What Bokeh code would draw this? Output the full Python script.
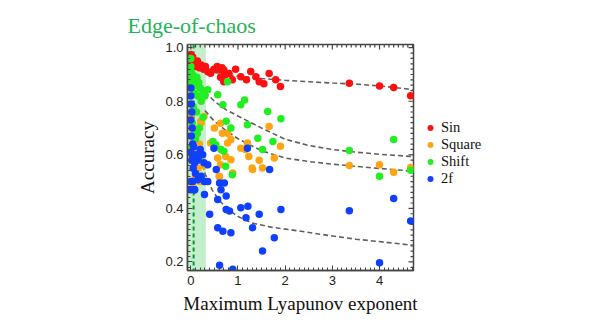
import math
from bokeh.plotting import figure
from bokeh.models import (Range1d, SingleIntervalTicker, PrintfTickFormatter,
                          BoxAnnotation, Span, Legend, LegendItem)
from bokeh.embed import file_html
from bokeh.resources import INLINE

# ---------------- data ----------------
sin_x = [0.00, 0.00, 0.02, 0.04, 0.07, 0.10, 0.14, 0.18, 0.22, 0.27, 0.31, 0.36, 0.42, 0.49, 0.56,
         0.60, 0.63, 0.66, 0.70, 0.74, 0.81, 0.70, 0.88, 0.95, 1.06, 1.18, 1.27, 1.38, 1.45, 1.55,
         1.66, 1.80, 1.90, 3.36, 4.00, 4.30, 4.66]
sin_y = [0.975, 0.955, 0.935, 0.965, 0.945, 0.93, 0.95, 0.925, 0.935, 0.92, 0.93, 0.91, 0.905, 0.92, 0.93,
         0.917, 0.89, 0.925, 0.917, 0.90, 0.904, 0.873, 0.88, 0.92, 0.892, 0.88, 0.911, 0.892, 0.873, 0.865,
         0.904, 0.88, 0.855, 0.867, 0.857, 0.851, 0.821]

square_x = [0.00, 0.03, 0.05, 0.08, 0.12, 0.02, 0.15, 0.10, 0.20, 0.05, 0.18, 0.25, 0.28, 0.30, 0.22,
            0.21, 0.28, 0.42, 0.63, 0.67, 0.78, 0.85, 0.78, 1.20, 1.16, 1.66, 1.90, 1.06, 1.23, 1.30,
            1.52, 0.74, 0.63, 0.60, 0.85, 0.57, 1.31, 1.45, 1.77, 0.89, 0.61, 0.50, 3.36, 4.00, 4.30, 4.66]
square_y = [0.74, 0.70, 0.66, 0.62, 0.60, 0.58, 0.55, 0.52, 0.50, 0.48, 0.64, 0.60, 0.56, 0.50, 0.72,
            0.725, 0.743, 0.644, 0.718, 0.681, 0.681, 0.657, 0.644, 0.644, 0.62, 0.706, 0.632, 0.625, 0.594, 0.551,
            0.551, 0.594, 0.563, 0.52, 0.582, 0.588, 0.545, 0.58, 0.588, 0.532, 0.517, 0.70, 0.56, 0.563, 0.535, 0.553]

shift_x = [0.00, 0.00, 0.01, 0.02, 0.00, 0.04, 0.06, 0.10, 0.13, 0.17, 0.20, 0.25, 0.08, 0.15, 0.22,
           0.05, 0.12, 0.03, 0.18, 0.10, 0.26, 0.30, 0.36, 0.57, 0.68, 0.78, 1.06, 1.14, 1.63, 1.91,
           0.75, 0.85, 1.20, 1.42, 1.74, 0.47, 0.64, 0.53, 0.70, 0.88, 1.52, 0.74, 3.36, 4.00, 4.30,
           4.66, 0.02, 0.06, 0.14]
shift_y = [0.96, 0.93, 0.91, 0.89, 0.87, 0.90, 0.88, 0.86, 0.89, 0.87, 0.85, 0.84, 0.83, 0.82, 0.80,
           0.78, 0.76, 0.72, 0.70, 0.66, 0.74, 0.82, 0.843, 0.824, 0.787, 0.873, 0.787, 0.805, 0.762, 0.735,
           0.725, 0.70, 0.712, 0.662, 0.65, 0.65, 0.62, 0.638, 0.613, 0.526, 0.62, 0.557, 0.616, 0.52, 0.657,
           0.542, 0.63, 0.60, 0.68]

f2_x = [0.00, 0.00, 0.01, 0.02, 0.00, 0.03, 0.01, 0.04, 0.00, 0.02, 0.05, 0.03, 0.06, 0.08, 0.10,
        0.04, 0.12, 0.15, 0.20, 0.25, 0.28, 0.00, 0.08, 0.22, 0.00, 0.15, 0.29, 0.36, 0.08, 0.29,
        0.40, 0.57, 0.64, 0.71, 0.75, 0.82, 0.75, 0.57, 0.68, 0.85, 1.06, 1.21, 1.17, 1.45, 1.31,
        1.91, 1.77, 1.52, 0.61, 0.89, 1.67, 0.54, 0.36, 0.61, 0.49, 1.20, 3.36, 4.00, 4.30, 4.66]
f2_y = [0.85, 0.82, 0.79, 0.76, 0.73, 0.70, 0.67, 0.64, 0.61, 0.58, 0.55, 0.60, 0.63, 0.57, 0.53,
        0.50, 0.60, 0.58, 0.62, 0.60, 0.57, 0.47, 0.47, 0.52, 0.50, 0.507, 0.50, 0.50, 0.47, 0.452,
        0.378, 0.433, 0.47, 0.495, 0.446, 0.39, 0.396, 0.328, 0.315, 0.309, 0.402, 0.408, 0.365, 0.378, 0.328,
        0.396, 0.29, 0.241, 0.188, 0.173, 0.545, 0.545, 0.563, 0.495, 0.625, 0.625, 0.391, 0.197, 0.437, 0.353]

# fitted trend curves
fit_x = [0.3, 0.5, 0.75, 1.0, 1.5, 2.0, 2.5, 3.0, 3.5, 4.0, 4.5, 4.72]
sin_fit_y = [0.915, 0.908, 0.90, 0.893, 0.885, 0.878, 0.873, 0.868, 0.864, 0.857, 0.848, 0.842]
shift_fit_y = [0.835, 0.80, 0.768, 0.745, 0.70, 0.658, 0.635, 0.62, 0.61, 0.602, 0.596, 0.593]
square_fit_y = [0.765, 0.725, 0.69, 0.66, 0.615, 0.588, 0.575, 0.565, 0.557, 0.549, 0.542, 0.538]
f2_fit_x = [0.12, 0.2, 0.3, 0.45, 0.6, 0.8, 1.0, 1.3, 1.7, 2.2, 2.8, 3.5, 4.2, 4.72]
f2_fit_y = [0.68, 0.6, 0.53, 0.47, 0.43, 0.395, 0.37, 0.345, 0.33, 0.318, 0.302, 0.285, 0.272, 0.262]

series_names = ["Sin", "Square", "Shift", "2f"]
band_left, band_right = -0.1, 0.32
edge_line_x = 0.06

x_lo, x_hi = -0.07, 4.72
y_lo, y_hi = 0.168, 1.012

# mirrored tick positions for the top and right frame edges
top_major = [0, 1, 2, 3, 4]
top_minor = [round(i * 0.1, 2) for i in range(0, 48) if i % 10]
right_major = [0.2, 0.4, 0.6, 0.8, 1.0]
right_minor = [round(0.18 + i * 0.02, 2) for i in range(42) if (i - 1) % 10]

# ---------------- figure ----------------
p = figure(frame_width=226, frame_height=226, output_backend="svg", toolbar_location=None,
           x_range=Range1d(x_lo, x_hi), y_range=Range1d(y_lo, y_hi),
           min_border_left=187, min_border_right=176, min_border_top=44, min_border_bottom=61,
           x_axis_label="Maximum Lyapunov exponent", y_axis_label="Accuracy",
           title="Edge-of-chaos")
p.background_fill_color = "white"
p.border_fill_color = "white"
p.outline_line_color = "#444444"
p.outline_line_width = 1.5
p.grid.visible = False

p.title.align = "left"
p.title.offset = -60
p.title.text_font = "Liberation Serif"
p.title.text_font_size = "22px"
p.title.text_font_style = "normal"
p.title.text_color = "#22b357"
p.title.standoff = 13

p.add_layout(BoxAnnotation(left=band_left, right=band_right, fill_color="#b0e9bc",
                           fill_alpha=0.75, line_color=None, level="underlay"))
p.add_layout(Span(location=edge_line_x, dimension="height", line_color="#14913c",
                  line_dash="4 3", line_width=2, level="underlay"))

# mirrored inward ticks on top and right edges
tick_kw = dict(marker="dash", line_color="#444444", line_width=1.2, fill_color=None)
p.scatter(top_major, [y_hi] * len(top_major), size=10, angle=math.pi / 2, **tick_kw)
p.scatter(top_minor, [y_hi] * len(top_minor), size=6, angle=math.pi / 2, **tick_kw)
p.scatter([x_hi] * len(right_major), right_major, size=10, **tick_kw)
p.scatter([x_hi] * len(right_minor), right_minor, size=6, **tick_kw)

dash_kw = dict(line_color="#606060", line_width=1.6, line_dash="5 3")
p.line(fit_x, sin_fit_y, **dash_kw)
p.line(fit_x, shift_fit_y, **dash_kw)
p.line(fit_x, square_fit_y, **dash_kw)
p.line(f2_fit_x, f2_fit_y, **dash_kw)

r_sin = p.scatter(sin_x, sin_y, size=7.5, color="#ff1010", line_color=None)
r_sq = p.scatter(square_x, square_y, size=7.5, color="#ffa511", line_color=None)
r_sh = p.scatter(shift_x, shift_y, size=7.5, color="#22ee22", line_color=None)
r_f2 = p.scatter(f2_x, f2_y, size=7.5, color="#1040ff", line_color=None)

# axes
bottom_ax = p.xaxis[0]
left_ax = p.yaxis[0]
bottom_ax.ticker = SingleIntervalTicker(interval=1, num_minor_ticks=10)
left_ax.ticker = SingleIntervalTicker(interval=0.2, num_minor_ticks=10)
left_ax.formatter = PrintfTickFormatter(format="%.1f")

for ax in [bottom_ax, left_ax]:
    ax.major_tick_in = 5
    ax.major_tick_out = 0
    ax.minor_tick_in = 3
    ax.minor_tick_out = 0
    ax.axis_line_color = "#444444"
    ax.axis_line_width = 1.5
    ax.major_tick_line_color = "#444444"
    ax.minor_tick_line_color = "#444444"
    ax.major_label_text_font = "Liberation Sans"
    ax.major_label_text_color = "#222222"
    ax.major_label_text_font_size = "13px"
    ax.axis_label_text_font = "Liberation Serif"
    ax.axis_label_text_font_style = "normal"
    ax.axis_label_text_color = "#111111"
    ax.axis_label_text_font_size = "19px"

bottom_ax.major_label_standoff = 5
left_ax.major_label_standoff = 4
bottom_ax.axis_label_standoff = 5
left_ax.axis_label_standoff = 4

legend = Legend(items=[LegendItem(label=n, renderers=[r]) for n, r in
                       zip(series_names, [r_sin, r_sq, r_sh, r_f2])],
                location=(7, 83), orientation="vertical")
legend.border_line_color = None
legend.background_fill_alpha = 0
legend.padding = 0
legend.margin = 0
legend.spacing = 0
legend.glyph_width = 20
legend.glyph_height = 15
legend.label_height = 15
legend.label_standoff = 1
legend.label_text_font = "Liberation Serif"
legend.label_text_font_size = "14.5px"
legend.label_text_color = "#111111"
p.add_layout(legend, "right")

open("out.html", "w").write(file_html(p, INLINE))
